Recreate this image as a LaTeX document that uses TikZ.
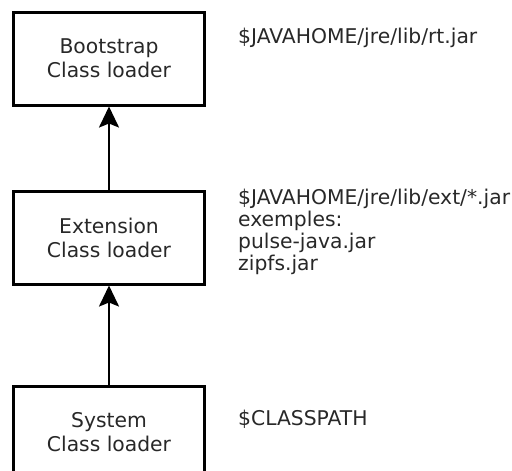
\documentclass[tikz,border=0pt]{standalone}
\usepackage{fontspec}
\setmainfont{DejaVu Sans}
\usetikzlibrary{arrows.meta, positioning}
\definecolor{mytext}{RGB}{40,40,40}
\tikzset{
  loader/.style={rectangle, draw=black, line width=3pt,
    minimum width=191pt, minimum height=93pt, align=center,
    text=mytext, font=\fontsize{20.3}{24}\selectfont},
  pathnote/.style={anchor=base west, align=left, inner sep=0pt,
    text=mytext, font=\fontsize{20.3}{21.7}\selectfont},
  arrow/.style={-{Stealth[length=21pt,width=20pt,inset=4pt]}, line width=2.3pt}
}

\begin{document}
\begin{tikzpicture}[x=1pt, y=-1pt]
  \useasboundingbox (0,0) rectangle (512,471);
  % the three loaders
  \node[loader] (boot) at (109,58.5) {Bootstrap\\Class loader};
  \node[loader, below=83pt of boot] (ext) {Extension\\Class loader};
  \node[loader, below=99pt of ext] (sys) {System\\Class loader};

  \draw[arrow] (ext.north) -- (boot.south);
  \draw[arrow] (sys.north) -- (ext.south);

  % where each one looks (base = last line)
  \node[pathnote] (bootnote) at (238,43) {\$JAVAHOME/jre/lib/rt.jar};
  \node[pathnote] (extnote) at (238,270) {\$JAVAHOME/jre/lib/ext/*.jar\\exemples:\\pulse-java.jar\\zipfs.jar};
  \node[pathnote] (sysnote) at (238,425) {\$CLASSPATH};
\end{tikzpicture}
\end{document}
